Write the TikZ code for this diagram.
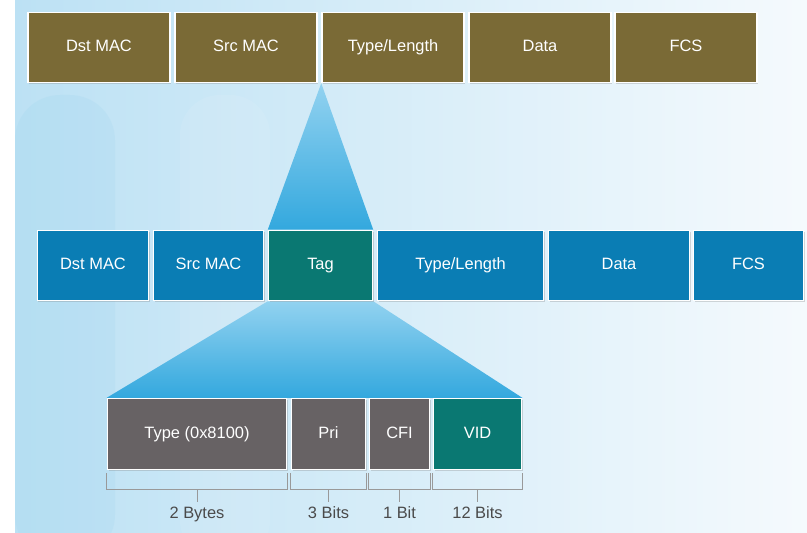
\documentclass[tikz,border=0pt]{standalone}
\usepackage{fontspec}
\setmainfont{Liberation Sans}
\usepackage{tikz}
\usetikzlibrary{shadows,backgrounds}
\definecolor{framebrown}{HTML}{7A6A36}
\definecolor{tagblue}{HTML}{0A7DB4}
\definecolor{tagteal}{HTML}{0A7872}
\definecolor{fieldgray}{HTML}{676264}
\definecolor{fanlight}{HTML}{92D2F0}
\definecolor{fandark}{HTML}{33A8DE}
\definecolor{bgleft}{HTML}{BCE1F4}
\definecolor{bgright}{HTML}{F5FAFD}
\definecolor{labelgray}{HTML}{4A4A4A}
\begin{document}
\begin{tikzpicture}[x=1bp,y=-1bp,
    field/.style={draw=white,line width=1.5bp,text=white,inner sep=0pt,
      minimum height=70bp,text height=12bp,text depth=3.5bp,font=\fontsize{16.5}{19}\selectfont,
      drop shadow={opacity=0.3,shadow xshift=1bp,shadow yshift=-1.5bp}},
    bracket/.style={draw=gray!80,line width=0.8bp},
    size/.style={below=1bp,text=labelgray,font=\fontsize{16.5}{19}\selectfont}]
            \useasboundingbox (0,0) rectangle (807,533);
            \node[field,fill=framebrown,minimum width=142bp] (tDst) at (99,47.5) {Dst MAC};
            \node[field,fill=framebrown,minimum width=142bp] (tSrc) at (246,47.5) {Src MAC};
            \node[field,fill=framebrown,minimum width=142bp] (tType) at (393,47.5) {Type/Length};
            \node[field,fill=framebrown,minimum width=142bp] (tData) at (540,47.5) {Data};
            \node[field,fill=framebrown,minimum width=142bp] (tFCS) at (686,47.5) {FCS};
            \node[field,fill=tagblue,minimum width=111bp] (mDst) at (93,265.5) {Dst MAC};
            \node[field,fill=tagblue,minimum width=110bp] (mSrc) at (208.5,265.5) {Src MAC};
            \node[field,fill=tagteal,minimum width=104bp] (mTag) at (320.5,265.5) {Tag};
            \node[field,fill=tagblue,minimum width=166bp] (mType) at (460.5,265.5) {Type/Length};
            \node[field,fill=tagblue,minimum width=141bp] (mData) at (619,265.5) {Data};
            \node[field,fill=tagblue,minimum width=110bp] (mFCS) at (748.5,265.5) {FCS};
            \node[field,fill=fieldgray,minimum width=179bp,minimum height=71bp] (bType) at (197,434) {Type (0x8100)};
            \node[field,fill=fieldgray,minimum width=74bp,minimum height=71bp] (bPri) at (328.5,434) {Pri};
            \node[field,fill=fieldgray,minimum width=60bp,minimum height=71bp] (bCFI) at (399.5,434) {CFI};
            \node[field,fill=tagteal,minimum width=88bp,minimum height=71bp] (bVID) at (477.5,434) {VID};
            \begin{scope}[on background layer]
                \fill[white] (0,0) rectangle (807,533);
                \shade[left color=bgleft,right color=bgright] (15,0) rectangle (807,533);
                \fill[fandark,opacity=0.05,rounded corners=45bp] (15,95) rectangle (115,560);
                \fill[white,opacity=0.08,rounded corners=40bp] (180,95) rectangle (270,560);
                \shade[top color=fanlight,bottom color=fandark] (tType.south west) -- (mTag.north east) -- (mTag.north west) -- cycle;
                \shade[top color=fanlight,bottom color=fandark] (mTag.south west) -- (mTag.south east) -- (bVID.north east) -- (bType.north west) -- cycle;
            \end{scope}
            \foreach \f/\t in {bType/2 Bytes, bPri/3 Bits, bCFI/1 Bit, bVID/12 Bits} {
                \draw[bracket] ([yshift=-3bp]\f.south west) |- ([yshift=-19bp]\f.south east) -- ([yshift=-3bp]\f.south east);
                \draw[bracket] ([yshift=-19bp]\f.south) -- ++(0,13) node[size]{\t};
            }
        \end{tikzpicture}
\end{document}
